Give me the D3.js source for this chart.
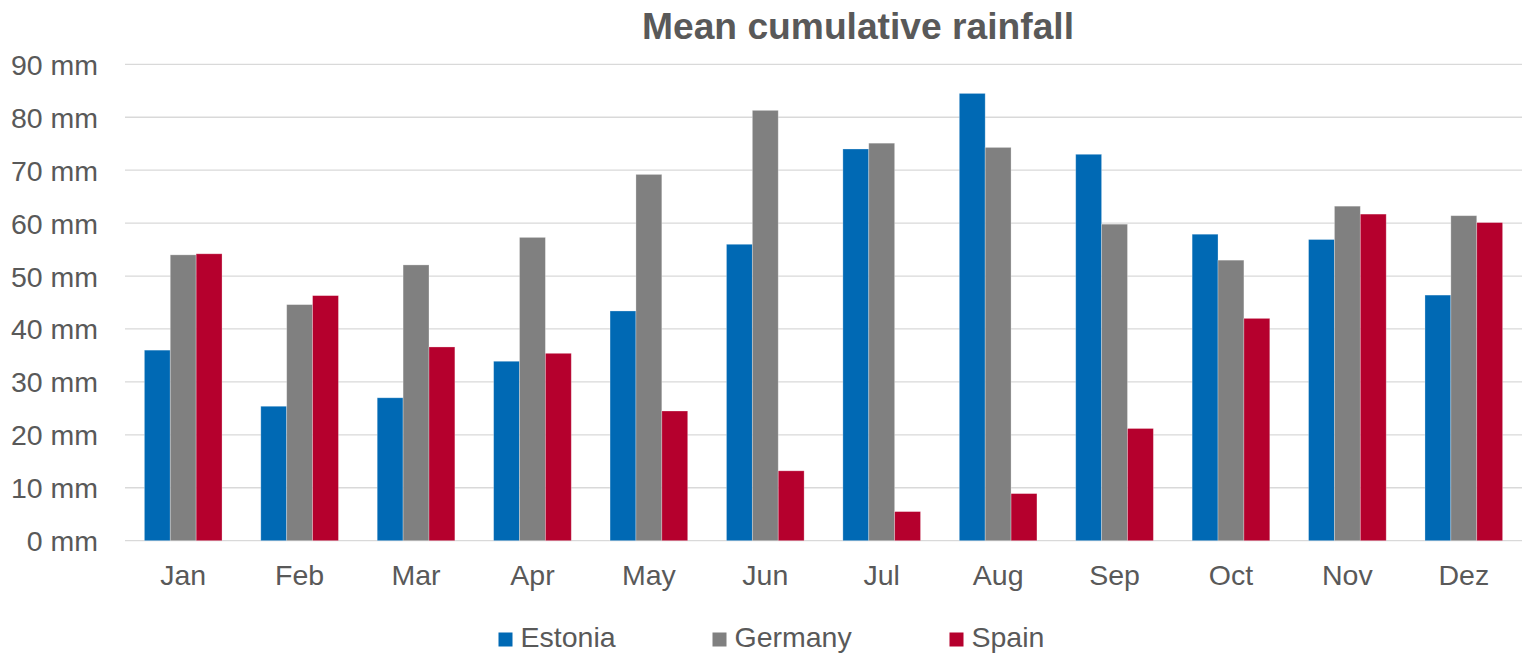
<!DOCTYPE html>
<html>
<head>
<meta charset="utf-8">
<script src="https://cdn.jsdelivr.net/npm/d3@7"></script>
<style>
  html, body { margin: 0; padding: 0; background: #fff; }
  svg { display: block; font-family: "Liberation Sans", Arial, sans-serif; }
</style>
</head>
<body>
<svg id="chart" width="1522" height="653"></svg>
<script>
// Monthly mean cumulative rainfall (mm)
const months = ["Jan", "Feb", "Mar", "Apr", "May", "Jun", "Jul", "Aug", "Sep", "Oct", "Nov", "Dez"];
const seriesNames = ["Estonia", "Germany", "Spain"];
const estonia = [36.0, 25.4, 27.0, 33.9, 43.4, 56.0, 74.0, 84.5, 73.0, 57.9, 56.9, 46.4];
const germany = [54.0, 44.6, 52.1, 57.3, 69.2, 81.3, 75.1, 74.3, 59.8, 53.0, 63.2, 61.4];
const spain   = [54.2, 46.3, 36.6, 35.4, 24.5, 13.2, 5.5, 8.9, 21.2, 42.0, 61.7, 60.1];
const yTicks = [0, 10, 20, 30, 40, 50, 60, 70, 80, 90];
const colors = ["#0069B4", "#808080", "#B5002D"];

const seriesValues = [estonia, germany, spain];
const rows = months.map((m, i) => ({
  month: m,
  values: seriesNames.map((s, j) => ({ series: s, value: seriesValues[j][i] }))
}));

const svg = d3.select("#chart");
const plot = { left: 125, right: 1522, top: 64.3, bottom: 540.7 };
const textColor = "#595959";
const labelSize = "28.5px";

const x = d3.scaleBand()
  .domain(months)
  .range([plot.left, plot.right])
  .paddingInner(0.333)
  .paddingOuter(0.1665);

const xInner = d3.scaleBand()
  .domain(seriesNames)
  .range([0, x.bandwidth()]);

const y = d3.scaleLinear()
  .domain([0, 90])
  .range([plot.bottom, plot.top]);

// horizontal gridlines
svg.append("g")
  .selectAll("line")
  .data(yTicks)
  .join("line")
  .attr("x1", plot.left)
  .attr("x2", plot.right)
  .attr("y1", d => y(d))
  .attr("y2", d => y(d))
  .attr("stroke", "#d9d9d9")
  .attr("stroke-width", 1.3);

// y axis labels
const yAxis = d3.axisLeft(y).tickValues(yTicks).tickSize(0).tickPadding(0)
  .tickFormat(d => d + " mm");
svg.append("g")
  .attr("transform", "translate(98,0)")
  .call(yAxis)
  .call(g => g.select(".domain").remove())
  .call(g => g.selectAll("text")
    .attr("fill", textColor)
    .attr("font-size", labelSize)
    .attr("font-family", "'Liberation Sans', Arial, sans-serif")
    .attr("dy", "0.35em"));

// x axis labels
const xAxis = d3.axisBottom(x).tickSize(0).tickPadding(0);
svg.append("g")
  .attr("transform", `translate(0,${plot.bottom})`)
  .call(xAxis)
  .call(g => g.select(".domain").remove())
  .call(g => g.selectAll("text")
    .attr("fill", textColor)
    .attr("font-size", labelSize)
    .attr("font-family", "'Liberation Sans', Arial, sans-serif")
    .attr("y", 44.5)
    .attr("dy", 0));

// bars
const groups = svg.append("g")
  .selectAll("g")
  .data(rows)
  .join("g")
  .attr("transform", d => `translate(${x(d.month)},0)`);

groups.selectAll("rect")
  .data(d => d.values)
  .join("rect")
  .attr("x", d => xInner(d.series))
  .attr("width", xInner.bandwidth())
  .attr("y", d => y(d.value))
  .attr("height", d => y(0) - y(d.value))
  .attr("fill", (d, i) => colors[i])
  .attr("stroke", "rgba(255,255,255,0.35)")
  .attr("stroke-width", 0.8);

// title
svg.append("text")
  .attr("x", 858)
  .attr("y", 38.5)
  .attr("text-anchor", "middle")
  .attr("fill", textColor)
  .attr("font-size", "36px")
  .attr("font-weight", "bold")
  .attr("textLength", 432)
  .attr("lengthAdjust", "spacingAndGlyphs")
  .text("Mean cumulative rainfall");

// legend
const legendX = [498.5, 712.5, 949.5];
const legend = svg.append("g")
  .selectAll("g")
  .data(seriesNames)
  .join("g")
  .attr("transform", (d, i) => `translate(${legendX[i]},632.5)`);

legend.append("rect")
  .attr("width", 14)
  .attr("height", 14)
  .attr("fill", (d, i) => colors[i]);

legend.append("text")
  .attr("x", 22)
  .attr("y", 14.3)
  .attr("fill", textColor)
  .attr("font-size", labelSize)
  .text(d => d);
</script>
</body>
</html>
